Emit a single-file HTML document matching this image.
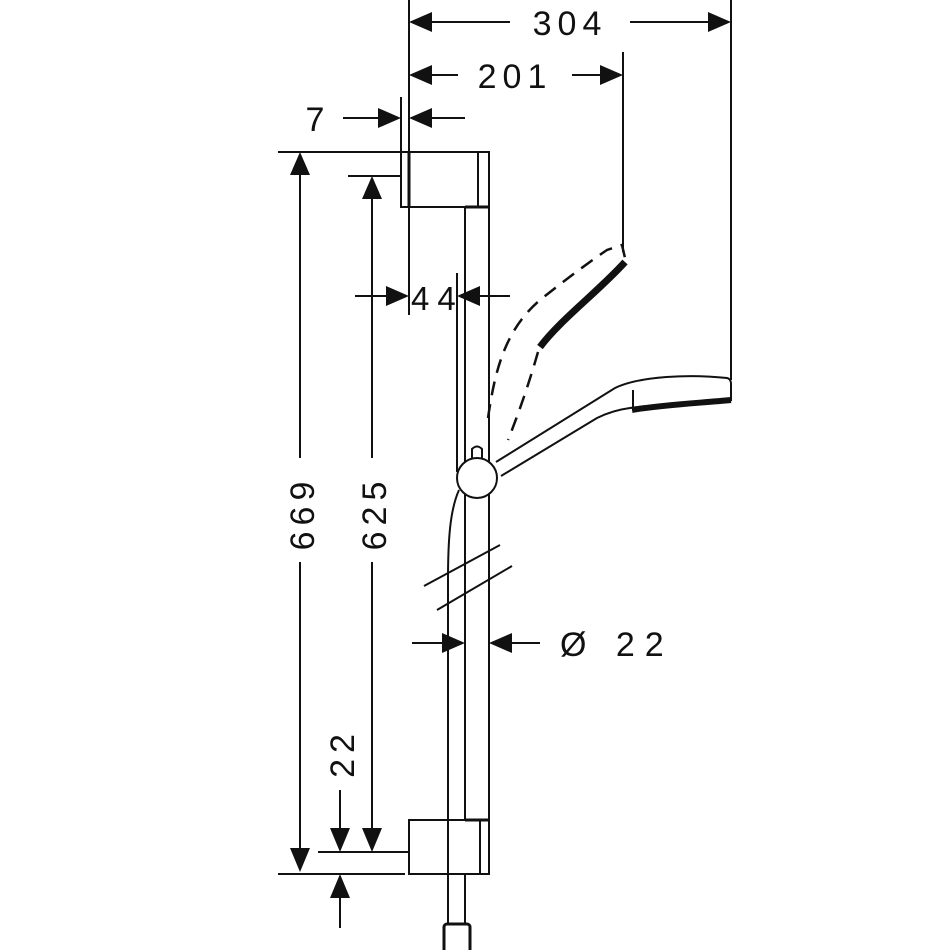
<!DOCTYPE html>
<html><head><meta charset="utf-8"><style>
html,body{margin:0;padding:0;background:#fff;}
svg{display:block;}
text{font-family:"Liberation Sans",sans-serif;font-size:34px;fill:#111;letter-spacing:6px;}
</style></head><body>
<svg width="950" height="950" viewBox="0 0 950 950" xmlns="http://www.w3.org/2000/svg">
<g stroke="#111" stroke-width="2" fill="none">
<line x1="409" y1="0" x2="409" y2="152"/>
<line x1="401" y1="97" x2="401" y2="152"/>
<line x1="731" y1="0" x2="731" y2="380"/>
<line x1="623" y1="52" x2="623" y2="252"/>
<line x1="432" y1="22" x2="510" y2="22"/>
<line x1="630" y1="22" x2="708" y2="22"/>
<line x1="432" y1="75" x2="458" y2="75"/>
<line x1="572" y1="75" x2="600" y2="75"/>
<line x1="343" y1="118" x2="378" y2="118"/>
<line x1="432" y1="118" x2="465" y2="118"/>
<line x1="409" y1="207" x2="409" y2="315"/>
<line x1="355" y1="296" x2="386" y2="296"/>
<line x1="480" y1="296" x2="510" y2="296"/>
<line x1="278" y1="152" x2="401" y2="152"/>
<line x1="300" y1="175" x2="300" y2="458"/>
<line x1="300" y1="562" x2="300" y2="848"/>
<line x1="278" y1="874" x2="405" y2="874"/>
<line x1="348" y1="176" x2="401" y2="176"/>
<line x1="372" y1="199" x2="372" y2="458"/>
<line x1="372" y1="562" x2="372" y2="828"/>
<line x1="318" y1="852" x2="409" y2="852"/>
<line x1="340" y1="790" x2="340" y2="828"/>
<line x1="340" y1="898" x2="340" y2="928"/>
<line x1="412" y1="643" x2="442" y2="643"/>
<line x1="512" y1="643" x2="540" y2="643"/>
<rect x="401" y="152" width="88" height="55"/>
<line x1="409" y1="152" x2="409" y2="207" stroke-width="3"/>
<line x1="478" y1="152" x2="478" y2="207"/>
<line x1="465" y1="207" x2="489" y2="207" stroke-width="3"/>
<line x1="465" y1="207" x2="465" y2="820"/>
<line x1="489" y1="207" x2="489" y2="820"/>
<line x1="457" y1="273" x2="457" y2="472"/>
<rect x="409" y="820" width="80" height="54"/>
<line x1="480" y1="820" x2="480" y2="874"/>
<line x1="465" y1="820" x2="489" y2="820" stroke-width="3"/>
<path d="M459,490 C450,510 448,540 448,580 L448,925"/>
<line x1="465" y1="874" x2="465" y2="925"/>
<rect x="444" y="924" width="26" height="30" rx="3" stroke-width="3"/>
<line x1="424" y1="586" x2="500" y2="545"/>
<line x1="437" y1="610" x2="512" y2="566"/>
<circle cx="477" cy="478" r="20" fill="#fff"/>
<path d="M472,459 L472,449 Q477,444 482,449 L482,459"/>
<path d="M496,462 L615,388 C640,376 690,374 727,378 Q731,379 731,384 L731,400 C700,402 660,404 630,408 C615,410 605,414 597,418 L501,476"/>
<path d="M731,400 C700,403 660,405 632,410" stroke-width="6"/>
<line x1="633" y1="390" x2="633" y2="407"/>
<path d="M488,418 C495,370 505,330 540,300 C570,276 595,258 607,250 L622,245 L625,258" stroke-dasharray="14,9" stroke-width="2.5"/>
<path d="M625,262 C600,290 560,320 540,347" stroke-width="7"/>
<path d="M538,352 C530,380 520,410 508,440" stroke-dasharray="14,9" stroke-width="2.5"/>
</g>
<g fill="#111">
<path d="M409,22 L432,12 L432,32 Z"/>
<path d="M731,22 L708,12 L708,32 Z"/>
<path d="M409,75 L432,65 L432,85 Z"/>
<path d="M623,75 L600,65 L600,85 Z"/>
<path d="M401,118 L378,108 L378,128 Z"/>
<path d="M409,118 L432,108 L432,128 Z"/>
<path d="M409,296 L386,286 L386,306 Z"/>
<path d="M457,296 L480,286 L480,306 Z"/>
<path d="M300,152 L290,175 L310,175 Z"/>
<path d="M300,872 L290,848 L310,848 Z"/>
<path d="M372,176 L362,199 L382,199 Z"/>
<path d="M372,852 L362,828 L382,828 Z"/>
<path d="M340,852 L330,828 L350,828 Z"/>
<path d="M340,874 L330,898 L350,898 Z"/>
<path d="M465,643 L442,633 L442,653 Z"/>
<path d="M489,643 L512,633 L512,653 Z"/>
</g>
<text x="570" y="35" text-anchor="middle">304</text>
<text x="515" y="88" text-anchor="middle">201</text>
<text x="318" y="131" text-anchor="middle">7</text>
<text x="411" y="310" style="font-size:33px;letter-spacing:8px">44</text>
<text x="560" y="656" style="letter-spacing:10px">Ø 22</text>
<text transform="translate(314,513) rotate(-90)" text-anchor="middle">669</text>
<text transform="translate(386,513) rotate(-90)" text-anchor="middle">625</text>
<text transform="translate(354,753) rotate(-90)" text-anchor="middle">22</text>
</svg>
</body></html>
